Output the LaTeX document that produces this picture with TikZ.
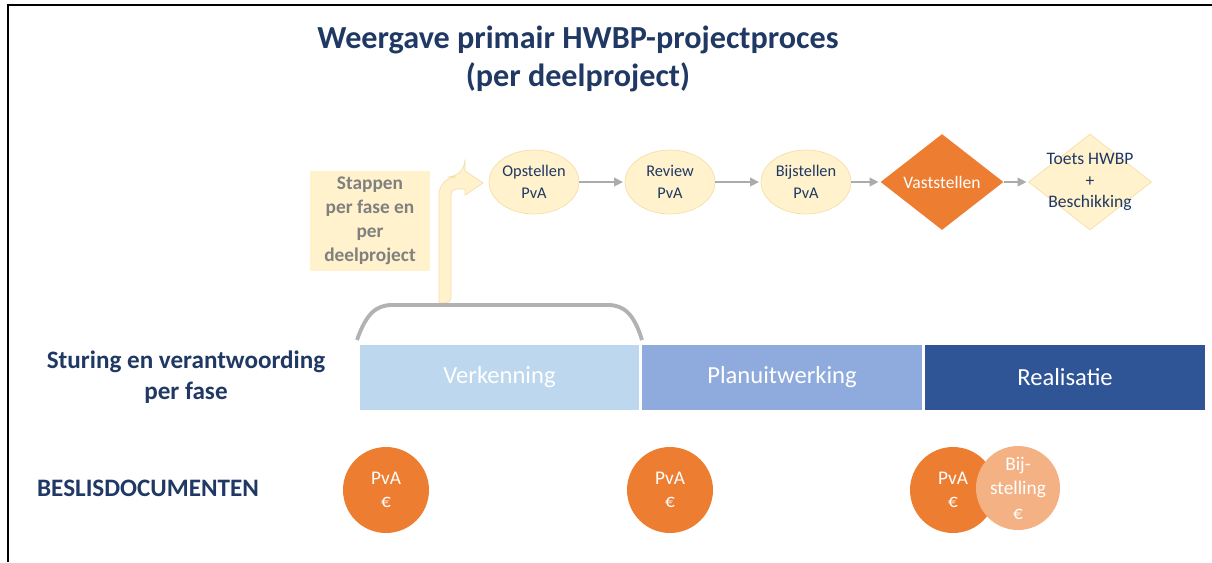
\documentclass[tikz,border=0pt]{standalone}
\usepackage{fontspec}
\setmainfont{Carlito}
\usetikzlibrary{shapes.geometric, arrows.meta, positioning}

\definecolor{hwbpblue}{HTML}{1F3864}
\definecolor{paleyellow}{HTML}{FFF2CC}
\definecolor{paleedge}{HTML}{F5DFA8}
\definecolor{hwbporange}{HTML}{ED7D31}
\definecolor{lightorange}{HTML}{F4B183}
\definecolor{faseA}{HTML}{BDD7EE}
\definecolor{faseB}{HTML}{8FAADC}
\definecolor{faseC}{HTML}{2F5597}

\tikzset{
  stapnode/.style={ellipse, fill=paleyellow, draw=paleedge, text=hwbpblue, align=center,
    font=\fontsize{9.3}{12.5}\selectfont, minimum width=1.8cm, minimum height=1.28cm, inner sep=0pt},
  ruitnode/.style={diamond, minimum width=2.46cm, minimum height=1.92cm, inner sep=0pt},
  fasenode/.style={rectangle, minimum width=5.6cm, minimum height=1.3cm, inner sep=0pt,
    text=white, font=\fontsize{14}{16}\selectfont},
  docnode/.style={circle, minimum size=1.72cm, inner sep=0pt, text=white, align=center,
    font=\fontsize{11}{13}\selectfont},
  pijl/.style={draw=black!33, line width=0.7pt, -{Triangle[length=5pt,width=5pt]}, shorten >=1pt},
  kop/.style={text=hwbpblue, font=\bfseries\fontsize{14.3}{18}\selectfont, align=center}
}

\begin{document}
\begin{tikzpicture}[x=0.02cm, y=-0.02cm]
\useasboundingbox (0,0) rectangle (1212,562);
% frame
\draw[line width=1.2pt] (8,562) -- (8,5) -- (1212,5);

% title
\node[text=hwbpblue, font=\bfseries\fontsize{18.3}{21.5}\selectfont, align=center] (titel) at (578,59)
  {Weergave primair HWBP-projectproces\\(per deelproject)};

% steps
\node[stapnode] (opst) at (534,182) {Opstellen\\PvA};
\node[stapnode] (review) at (670,182) {Review\\PvA};
\node[stapnode] (bijst) at (806,182) {Bijstellen\\PvA};
\node[ruitnode, fill=hwbporange] (vast) at (942,182) {};
\node[text=white, font=\fontsize{10}{12.5}\selectfont] (vasttxt) at (vast) {Vaststellen};
\node[ruitnode, fill=paleyellow, draw=paleedge] (toets) at (1090,182) {};
\node[text=hwbpblue, align=center, font=\fontsize{10}{12.2}\selectfont] (toetstxt) at (toets)
  {Toets HWBP\\+\\Beschikking};

\draw[pijl] (opst) -- (review);
\draw[pijl] (review) -- (bijst);
\draw[pijl] (bijst) -- (vast);
\draw[pijl] (vast) -- (toets);

% stappen box
\node[fill=paleyellow, minimum width=2.4cm, minimum height=1.96cm, text=black!50, align=center,
  font=\bfseries\fontsize{11}{13.6}\selectfont] (stappen) at (370,221)
  {Stappen\\per fase en\\per\\deelproject};

% bent arrow
\filldraw[fill=paleyellow, draw=paleedge, line width=0.4pt]
  (439,303) [rounded corners=10pt] -- (439,177) -- (465,177) [sharp corners] -- (465,171)
  -- (483,183) -- (465,195) -- (465,189) [rounded corners=3pt] -- (451,189) -- (451,303) [sharp corners] -- cycle;

% bracket
\draw[black!30, line width=2.2pt] (357,340) .. controls (366,314) and (376,305) .. (392,305)
  -- (608,305) .. controls (624,305) and (634,314) .. (642,340);

% phases
\node[fasenode, fill=faseA] (verk) at (499.5,377.5) {Verkenning};
\node[fasenode, fill=faseB] (plan) at (782,377.5) {Planuitwerking};
\node[fasenode, fill=faseC] (real) at (1065,377.5) {Realisatie};

\node[kop] (sturing) at (186,377) {Sturing en verantwoording\\per fase};
\node[kop] (beslis) at (148,488) {BESLISDOCUMENTEN};

% decision documents
\node[docnode, fill=hwbporange] (doc1) at (386,490) {PvA\\€};
\node[docnode, fill=hwbporange] (doc2) at (670,490) {PvA\\€};
\node[docnode, fill=hwbporange] (doc3) at (953,490) {PvA\\€};
\node[docnode, fill=lightorange, minimum size=1.68cm, font=\fontsize{11}{14}\selectfont] (doc4) at (1018,488)
  {Bij-\\stelling\\€};
\end{tikzpicture}
\end{document}
